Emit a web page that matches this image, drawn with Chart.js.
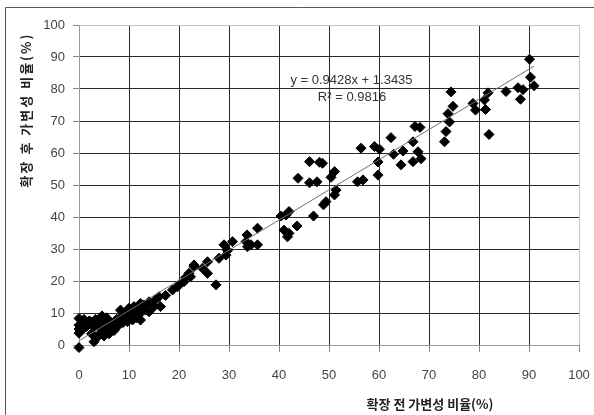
<!DOCTYPE html>
<html>
<head>
<meta charset="utf-8">
<script src="https://cdn.jsdelivr.net/npm/chart.js@4"></script>
<style>
  body { margin: 0; background: #fff; }
  canvas { display: block; }
</style>
</head>
<body>
<canvas id="scatterChart" width="594" height="415"></canvas>
<script>
// 확장 전 (x) / 확장 후 (y) 가변성 비율, 그림에서 읽은 값
const beforeRatio = [
    0, 0, 0, 0, 0, 0.6, 0.5, 1, 1.5, 2, 2.3, 2.5, 3, 3, 3.3, 3.5, 3.8, 4.3, 4.6, 4.5,
    5, 5, 5.3, 5.5, 5.8, 6, 6.3, 6.5, 7, 7, 7.5, 7.8, 8.3, 8.3, 8.5, 8.8, 9, 9.3, 9.7, 10,
    10, 10.5, 10.7, 11, 11.3, 11.5, 12, 12.3, 12.3, 12.5, 13, 13.3, 14, 14, 15,
    15.3, 16, 16.3, 17.3, 18.7, 19.7, 20, 21, 21.3, 22, 22.3, 23, 23, 24.7, 25.7, 25.7, 27.4,
    28, 29, 29.4, 29.7, 30.7, 33.4, 33.6, 33.7, 34.4, 35.7, 35.7,
    40.4, 41.4, 42, 41, 42, 41.7, 43.6, 43.8, 46.1, 48.1, 48.7, 46.1, 47.6, 46.9, 48.9, 49.4,
    50.4, 51.1, 51.1, 51.4, 55.7, 56.8, 56.4, 59.1, 60.1, 59.8, 59.8, 62.4, 62.9, 64.4, 64.8,
    66.8, 67.2, 68.2, 67.8, 68.4, 66.8, 73.1, 73.4, 74.1, 73.8, 74.8, 74.4, 78.8, 79.3, 81.1,
    81.8, 81.3, 82, 85.4, 87.8, 88.3, 88.8, 90.1, 90.3, 91
];
const afterRatio = [
    -0.8, 3.7, 5, 6.2, 8.3, 6.8, 4.5, 8, 5.8, 7.5, 7.3, 3.5, 1, 5.5, 8, 2.2, 6.5, 3.7, 9.1, 5,
    7.5, 2.8, 4.5, 8.5, 6, 3.5, 7, 5, 6.5, 4.5, 8, 6, 7.6, 10.9, 9, 7, 8.5, 10, 7.3, 11.5,
    9, 10, 7.8, 12, 10.9, 8.5, 9.5, 13, 7.8, 11, 12.5, 10.9, 13.5, 10.4, 12,
    14.1, 15.1, 12, 15.5, 17.2, 18.2, 18.8, 19.8, 21, 22.4, 21.3, 24.5, 25, 24, 26, 22.4, 18.8,
    27.1, 31.3, 28.1, 29.5, 32.3, 32.3, 34.4, 30.7, 31.3, 31.3, 36.5,
    40.3, 40.6, 41.7, 35.9, 34.9, 33.8, 37.2, 52.1, 57.3, 57.1, 56.8, 50.7, 51, 40.3, 43.8, 44.8,
    52.4, 54.2, 46.9, 48.4, 51, 51.6, 61.5, 62, 61.2, 57.2, 53.1, 64.8, 59.6, 56.3, 60.6,
    63.5, 68.3, 68, 60.4, 58.2, 57.3, 63.5, 66.7, 69.7, 72.3, 74.6, 79.1, 75.5, 73.4, 76.6,
    78.8, 73.6, 65.8, 79.2, 80.4, 76.8, 79.8, 89.3, 83.7, 81
];
// 추세선 양 끝 (y = 0.9428x + 1.3435)
const trendX = [0, 91];
const trendY = [1.34, 87.14];
const tickValues = [0, 10, 20, 30, 40, 50, 60, 70, 80, 90, 100];
const xTitle = "확장 전 가변성 비율(%)";
const yTitle = "확장 후 가변성 비율(%)";
const equationLines = ["y = 0.9428x + 1.3435", "R² = 0.9816"];

const tickFont = { family: "'Liberation Sans', Arial, sans-serif", size: 13 };

const decorPlugin = {
    id: "decor",
    beforeDraw(chart) {
        const ctx = chart.ctx;
        ctx.save();
        ctx.fillStyle = "#fff";
        ctx.fillRect(0, 0, chart.width, chart.height);
        // outer frame
        ctx.strokeStyle = "#555";
        ctx.lineWidth = 1;
        ctx.beginPath();
        ctx.moveTo(5.5, chart.height);
        ctx.lineTo(5.5, 7.5);
        ctx.lineTo(chart.width, 7.5);
        ctx.stroke();
        ctx.restore();
    },
    afterDraw(chart) {
        const ctx = chart.ctx;
        const xs = chart.scales.x;
        const ys = chart.scales.y;
        ctx.save();
        ctx.fillStyle = "#222";
        ctx.font = "bold 13px 'Noto Sans CJK KR', sans-serif";
        ctx.textAlign = "center";
        ctx.textBaseline = "middle";
        ctx.fillText(xTitle, 430, 404);

        ctx.translate(26, 110);
        ctx.rotate(-Math.PI / 2);
        ctx.letterSpacing = "2px";
        ctx.fillText(yTitle, 0, 0);
        ctx.restore();

        ctx.save();
        ctx.fillStyle = "#333";
        ctx.font = "13px 'Liberation Sans', Arial, sans-serif";
        ctx.textAlign = "center";
        ctx.textBaseline = "middle";
        ctx.fillText(equationLines[0], xs.getPixelForValue(54.5), ys.getPixelForValue(82.8));
        ctx.fillText(equationLines[1], xs.getPixelForValue(54.6), ys.getPixelForValue(77.5));
        ctx.restore();
    }
};

function gridColor(ctx) {
    return ctx.tick && ctx.tick.value === 100 ? "#c4c4c4" : "#2a2a2a";
}

new Chart(document.getElementById("scatterChart").getContext("2d"), {
    type: "scatter",
    data: {
        datasets: [
            {
                type: "line",
                label: "trend",
                data: trendX.map((x, i) => ({ x: x, y: trendY[i] })),
                borderColor: "#707070",
                borderWidth: 1,
                pointRadius: 0,
                fill: false,
                order: 0
            },
            {
                label: "ratio",
                data: beforeRatio.map((x, i) => ({ x: x, y: afterRatio[i] })),
                pointStyle: "rectRot",
                pointRadius: 5,
                backgroundColor: "#000",
                borderColor: "#000",
                borderWidth: 1,
                clip: false,
                order: 1
            }
        ]
    },
    options: {
        responsive: false,
        animation: false,
        devicePixelRatio: 1,
        layout: { padding: { left: 0, top: 25, right: 15, bottom: 0 } },
        plugins: { legend: { display: false }, tooltip: { enabled: false } },
        scales: {
            x: {
                type: "linear",
                min: 0,
                max: 100,
                afterFit(scale) {
                    scale.height = 70;
                    scale.paddingLeft = 0;
                    scale.paddingRight = 0;
                },
                afterBuildTicks(scale) { scale.ticks = tickValues.map((v) => ({ value: v })); },
                ticks: { color: "#444", font: tickFont, padding: 16, maxRotation: 0 },
                grid: { color: gridColor, lineWidth: 1, tickLength: 7, tickColor: "#888" },
                border: { display: true, color: "#999" }
            },
            y: {
                type: "linear",
                min: 0,
                max: 100,
                afterFit(scale) {
                    scale.width = 79;
                    scale.paddingTop = 0;
                    scale.paddingBottom = 0;
                },
                afterBuildTicks(scale) { scale.ticks = tickValues.map((v) => ({ value: v })); },
                ticks: { color: "#444", font: tickFont, padding: 8 },
                grid: { color: gridColor, lineWidth: 1, tickLength: 6, tickColor: "#888" },
                border: { display: true, color: "#999" }
            }
        }
    },
    plugins: [decorPlugin]
});
</script>
</body>
</html>
